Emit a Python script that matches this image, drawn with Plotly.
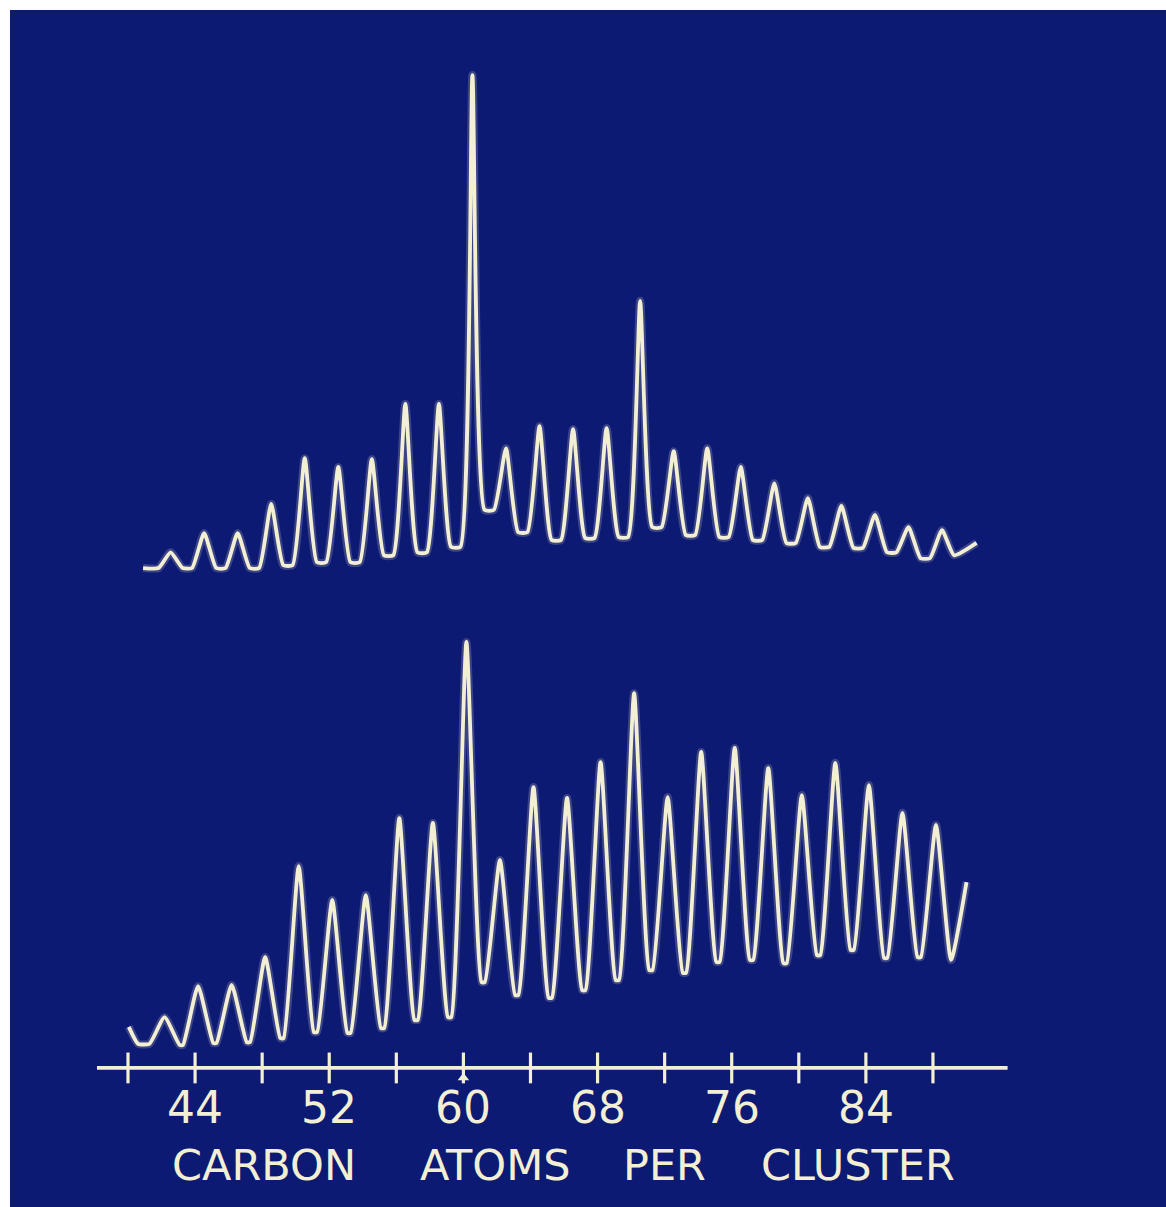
import plotly.graph_objects as go

# --- data -------------------------------------------------------------------
# cluster sizes C_n that show a peak in both traces
CLUSTER_SIZE = list(range(42, 90, 2))

# upper trace: peak heights and the level of the trough after each peak
# (arbitrary intensity, C60 = 100)
UPPER_PEAKS = [3.2, 7.1, 7.1, 13.0, 22.3, 20.5, 22.1, 33.3, 33.3, 100.0,
               24.3, 28.8, 28.2, 28.4, 54.2, 23.7, 24.3, 20.5, 17.2, 14.2,
               12.6, 10.8, 8.3, 7.7]
UPPER_TROUGHS = [0.0, 0.0, 0.0, 0.6, 1.2, 1.2, 2.6, 3.2, 4.3, 11.8,
                 7.3, 5.7, 6.1, 6.3, 8.3, 6.7, 6.3, 5.7, 5.1, 4.3,
                 4.1, 3.2, 2.0, 2.6]
UPPER_LEAD = [(40.9, 0.0)]
UPPER_TAIL = [(90.6, 5.1)]

# lower trace
LOWER_PEAKS = [6.9, 14.6, 14.9, 21.8, 44.4, 36.0, 37.2, 56.3, 55.1, 100.0,
               45.9, 64.0, 61.3, 70.2, 87.3, 61.5, 72.7, 73.7, 68.7, 62.0,
               70.0, 64.5, 57.6, 54.6]
LOWER_TROUGHS = [0.0, 0.5, 0.7, 1.7, 3.2, 3.0, 4.2, 6.2, 6.9, 15.6,
                 12.4, 11.7, 13.6, 16.1, 18.6, 17.9, 20.6, 21.1, 20.3, 22.3,
                 23.6, 21.6, 21.8, 21.1]
LOWER_LEAD = [(40.05, 4.5), (40.6, 0.3)]
LOWER_TAIL = [(90.0, 40.4)]

# axis
AXIS_TICKS = list(range(40, 89, 4))
TICK_LABELS = ["44", "52", "60", "68", "76", "84"]
TICK_LABEL_AT = [44, 52, 60, 68, 76, 84]
AXIS_SPAN = (38.15, 92.45)
AXIS_TITLE_WORDS = ["CARBON", "ATOMS", "PER", "CLUSTER"]

# --- style ------------------------------------------------------------------
BLUE = "#0d1a74"
INK = "#f3efd3"
GLOW = "rgba(243,239,211,0.20)"


def trace_points(sizes, peaks, troughs, lead, tail, half_width, shift):
    xs = [p[0] for p in lead]
    ys = [p[1] for p in lead]
    level = ys[-1]
    for n, h, v in zip(sizes, peaks, troughs):
        left = n - half_width + shift
        if left > xs[-1] + 1e-6:
            xs.append(left)
            ys.append(level)
        xs.extend([n + shift, n + half_width + shift])
        ys.extend([h, v])
        level = v
    xs.extend(p[0] for p in tail)
    ys.extend(p[1] for p in tail)
    return xs, ys


ux, uy = trace_points(CLUSTER_SIZE, UPPER_PEAKS, UPPER_TROUGHS,
                      UPPER_LEAD, UPPER_TAIL, 0.72, 0.54)
lx, ly = trace_points(CLUSTER_SIZE, LOWER_PEAKS, LOWER_TROUGHS,
                      LOWER_LEAD, LOWER_TAIL, 0.9, 0.18)

AXIS_LEVEL = -5.7

fig = go.Figure()

for xs, ys, ax in [(ux, uy, "y2"), (lx, ly, "y")]:
    fig.add_trace(go.Scatter(x=xs, y=ys, yaxis=ax, mode="lines",
                             line=dict(color=GLOW, width=8, shape="spline",
                                       smoothing=0.5),
                             hoverinfo="skip"))
    fig.add_trace(go.Scatter(x=xs, y=ys, yaxis=ax, mode="lines",
                             line=dict(color=INK, width=3.8, shape="spline",
                                       smoothing=0.5)))

# horizontal axis with crossing ticks
fig.add_trace(go.Scatter(x=list(AXIS_SPAN), y=[AXIS_LEVEL, AXIS_LEVEL],
                         mode="lines", line=dict(color=INK, width=3.8)))
fig.add_trace(go.Scatter(x=AXIS_TICKS, y=[AXIS_LEVEL] * len(AXIS_TICKS),
                         mode="markers",
                         marker=dict(symbol="line-ns", size=22,
                                     line=dict(color=INK, width=3.2))))
fig.add_trace(go.Scatter(x=[60], y=[AXIS_LEVEL - 2.4], mode="markers",
                         marker=dict(symbol="triangle-up", size=10, color=INK)))

for lab, at in zip(TICK_LABELS, TICK_LABEL_AT):
    fig.add_annotation(x=at, y=0.0835, xref="x", yref="paper", text=lab,
                       showarrow=False, xanchor="center", yanchor="middle",
                       font=dict(family="DejaVu Sans", size=44, color=INK))

for word, at in zip(AXIS_TITLE_WORDS, [48.1, 61.9, 72.0, 83.5]):
    fig.add_annotation(x=at, y=0.0351, xref="x", yref="paper", text=word,
                       showarrow=False, xanchor="center", yanchor="middle",
                       font=dict(family="DejaVu Sans", size=43, color=INK))

fig.update_layout(
    width=1166, height=1207,
    margin=dict(l=10, r=0, t=10, b=0),
    paper_bgcolor="white", plot_bgcolor=BLUE,
    showlegend=False,
    xaxis=dict(range=[32.964, 101.896], visible=False, fixedrange=True),
    yaxis=dict(range=[-40.2, 256.8], visible=False, fixedrange=True),
    yaxis2=dict(range=[-129.6, 113.2], visible=False, overlaying="y",
                fixedrange=True),
)

fig.write_html("out.html")
